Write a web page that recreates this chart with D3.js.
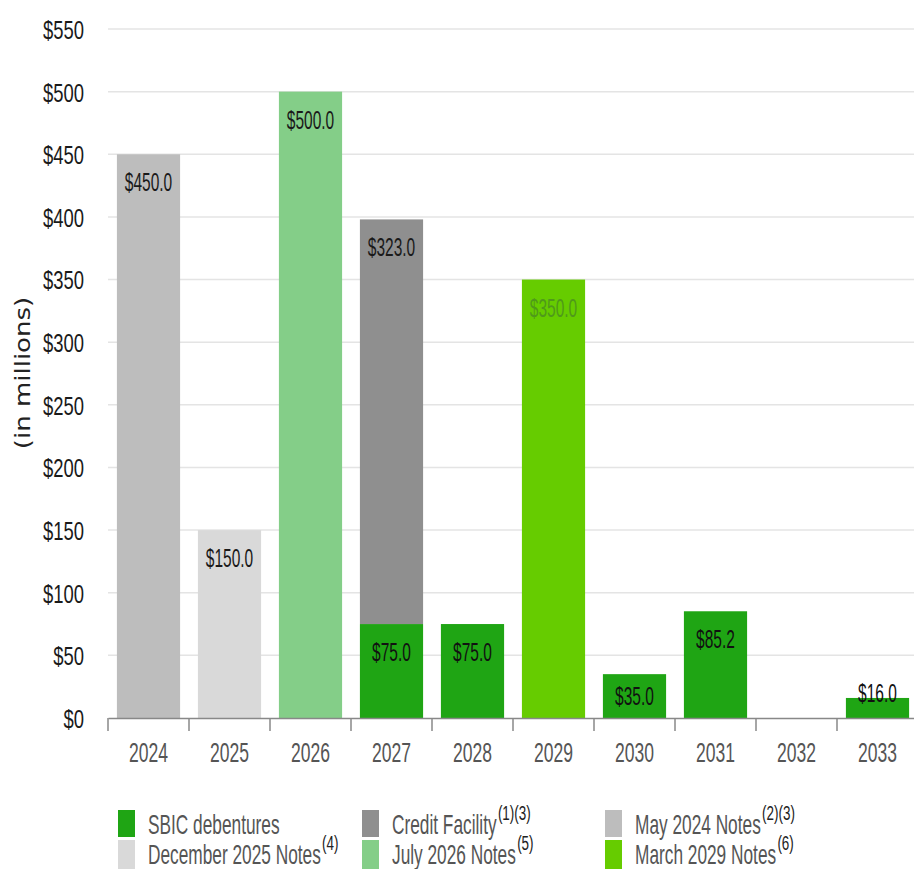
<!DOCTYPE html>
<html lang="en">
<head>
<meta charset="UTF-8">
<script src="https://d3js.org/d3.v7.min.js"></script>
<style>
  body { margin: 0; background: #fff; }
  svg text { font-family: "Liberation Sans", Arial, sans-serif; }
</style>
</head>
<body>
<div id="chart"></div>
<script>
// maturity years
var years = ["2024", "2025", "2026", "2027", "2028", "2029", "2030", "2031", "2032", "2033"];

// series, stacked bottom to top
var seriesNames = ["SBIC debentures", "Credit Facility", "May 2024 Notes", "December 2025 Notes", "July 2026 Notes", "March 2029 Notes"];
var seriesNotes = ["", "(1)(3)", "(2)(3)", "(4)", "(5)", "(6)"];
var seriesColors = ["#1fa514", "#8f8f8f", "#bdbdbd", "#d9d9d9", "#84ce88", "#66cc00"];
var labelColors = ["#111", "#1a1a1a", "#1a1a1a", "#1a1a1a", "#1a1a1a", "#4f9a1a"];

var sbic          = [0, 0, 0, 75, 75, 0, 35, 85.2, 0, 16];
var creditFac     = [0, 0, 0, 323, 0, 0, 0, 0, 0, 0];
var may2024       = [450, 0, 0, 0, 0, 0, 0, 0, 0, 0];
var dec2025       = [0, 150, 0, 0, 0, 0, 0, 0, 0, 0];
var jul2026       = [0, 0, 500, 0, 0, 0, 0, 0, 0, 0];
var mar2029       = [0, 0, 0, 0, 0, 350, 0, 0, 0, 0];

var yTicks = [0, 50, 100, 150, 200, 250, 300, 350, 400, 450, 500, 550];

var seriesValues = [sbic, creditFac, may2024, dec2025, jul2026, mar2029];

var W = 914, H = 869;
var svg = d3.select("#chart").append("svg").attr("width", W).attr("height", H);

// the original type is tall and narrow, squeeze it horizontally
function narrow(sel, sx) {
  sel.attr("transform", "scale(" + sx + ",1)");
}

var x = d3.scaleBand().domain(years).range([108, 918]).paddingInner(0.22).paddingOuter(0.11);
var y = d3.scaleLinear().domain([0, 550]).range([718, 29]);

// gridlines
svg.append("g").selectAll("line").data(yTicks.slice(1)).enter().append("line")
  .attr("x1", 108).attr("x2", W)
  .attr("y1", function(d) { return y(d); }).attr("y2", function(d) { return y(d); })
  .attr("stroke", "#e4e4e4").attr("stroke-width", 1.5);

// y axis labels
var yAxis = svg.append("g").attr("transform", "translate(84,0)")
  .call(d3.axisLeft(y).tickValues(yTicks).tickSize(0).tickPadding(0).tickFormat(function(d) { return "$" + d; }));
yAxis.select(".domain").remove();
yAxis.selectAll("text").style("font-size", "26px").attr("fill", "#1a1a1a").attr("dy", "0.36em").call(narrow, 0.71);

svg.append("text")
  .attr("transform", "translate(30,373) rotate(-90) scale(1,0.8)")
  .attr("text-anchor", "middle")
  .style("font-family", "DejaVu Sans, sans-serif")
  .style("font-size", "26px")
  .attr("fill", "#222")
  .text("(in millions)");

// stacked bars
var rows = years.map(function(yr, i) {
  var r = { year: yr };
  seriesNames.forEach(function(n, s) { r[n] = seriesValues[s][i]; });
  return r;
});
var stack = d3.stack().keys(seriesNames)(rows);

stack.forEach(function(layer, s) {
  var g = svg.append("g");
  layer.forEach(function(d, i) {
    var v = d[1] - d[0];
    if (v <= 0) return;
    var top = y(d[1]), bot = y(d[0]), h = bot - top;
    g.append("rect")
      .attr("x", x(years[i]))
      .attr("width", x.bandwidth())
      .attr("y", top)
      .attr("height", h)
      .attr("fill", seriesColors[s]);
    var ly;
    if (h > 60) ly = top + 28;
    else if (h > 30) ly = (top + bot) / 2;
    else ly = top - 5;
    g.append("g")
      .attr("transform", "translate(" + (x(years[i]) + x.bandwidth() / 2) + "," + ly + ")")
      .append("text")
      .attr("dy", "0.36em")
      .attr("text-anchor", "middle")
      .style("font-size", "25px")
      .attr("fill", labelColors[s])
      .text("$" + v.toFixed(1))
      .call(narrow, 0.62);
  });
});

// x axis
var xAxis = svg.append("g").attr("transform", "translate(0,718)")
  .call(d3.axisBottom(x).tickSize(0).tickPadding(25));
xAxis.select(".domain").attr("stroke", "#888").attr("stroke-width", 1.5);
xAxis.selectAll("text").style("font-size", "27px").attr("fill", "#555").call(narrow, 0.65);

var step = x.step();
svg.append("g").selectAll("line").data(years).enter().append("line")
  .attr("x1", function(d) { return x(d) - step * 0.11; })
  .attr("x2", function(d) { return x(d) - step * 0.11; })
  .attr("y1", 718).attr("y2", 731)
  .attr("stroke", "#888").attr("stroke-width", 1.5);

// legend
var colX = [118, 362, 605];
var rowY = [810, 840];
seriesNames.forEach(function(name, s) {
  var cx = colX[s % 3], cy = rowY[Math.floor(s / 3)];
  var g = svg.append("g").attr("transform", "translate(" + cx + "," + cy + ")");
  g.append("rect").attr("width", 17).attr("height", s < 3 ? 27 : 29).attr("fill", seriesColors[s]);
  var t = g.append("g").attr("transform", "translate(30,24)").append("text")
    .style("font-size", "27px").attr("fill", "#555").text(name)
    .call(narrow, 0.64);
  if (seriesNotes[s]) {
    t.append("tspan").attr("dx", 2).attr("dy", -14).style("font-size", "21px").attr("fill", "#222").text(seriesNotes[s]);
  }
});
</script>
</body>
</html>
